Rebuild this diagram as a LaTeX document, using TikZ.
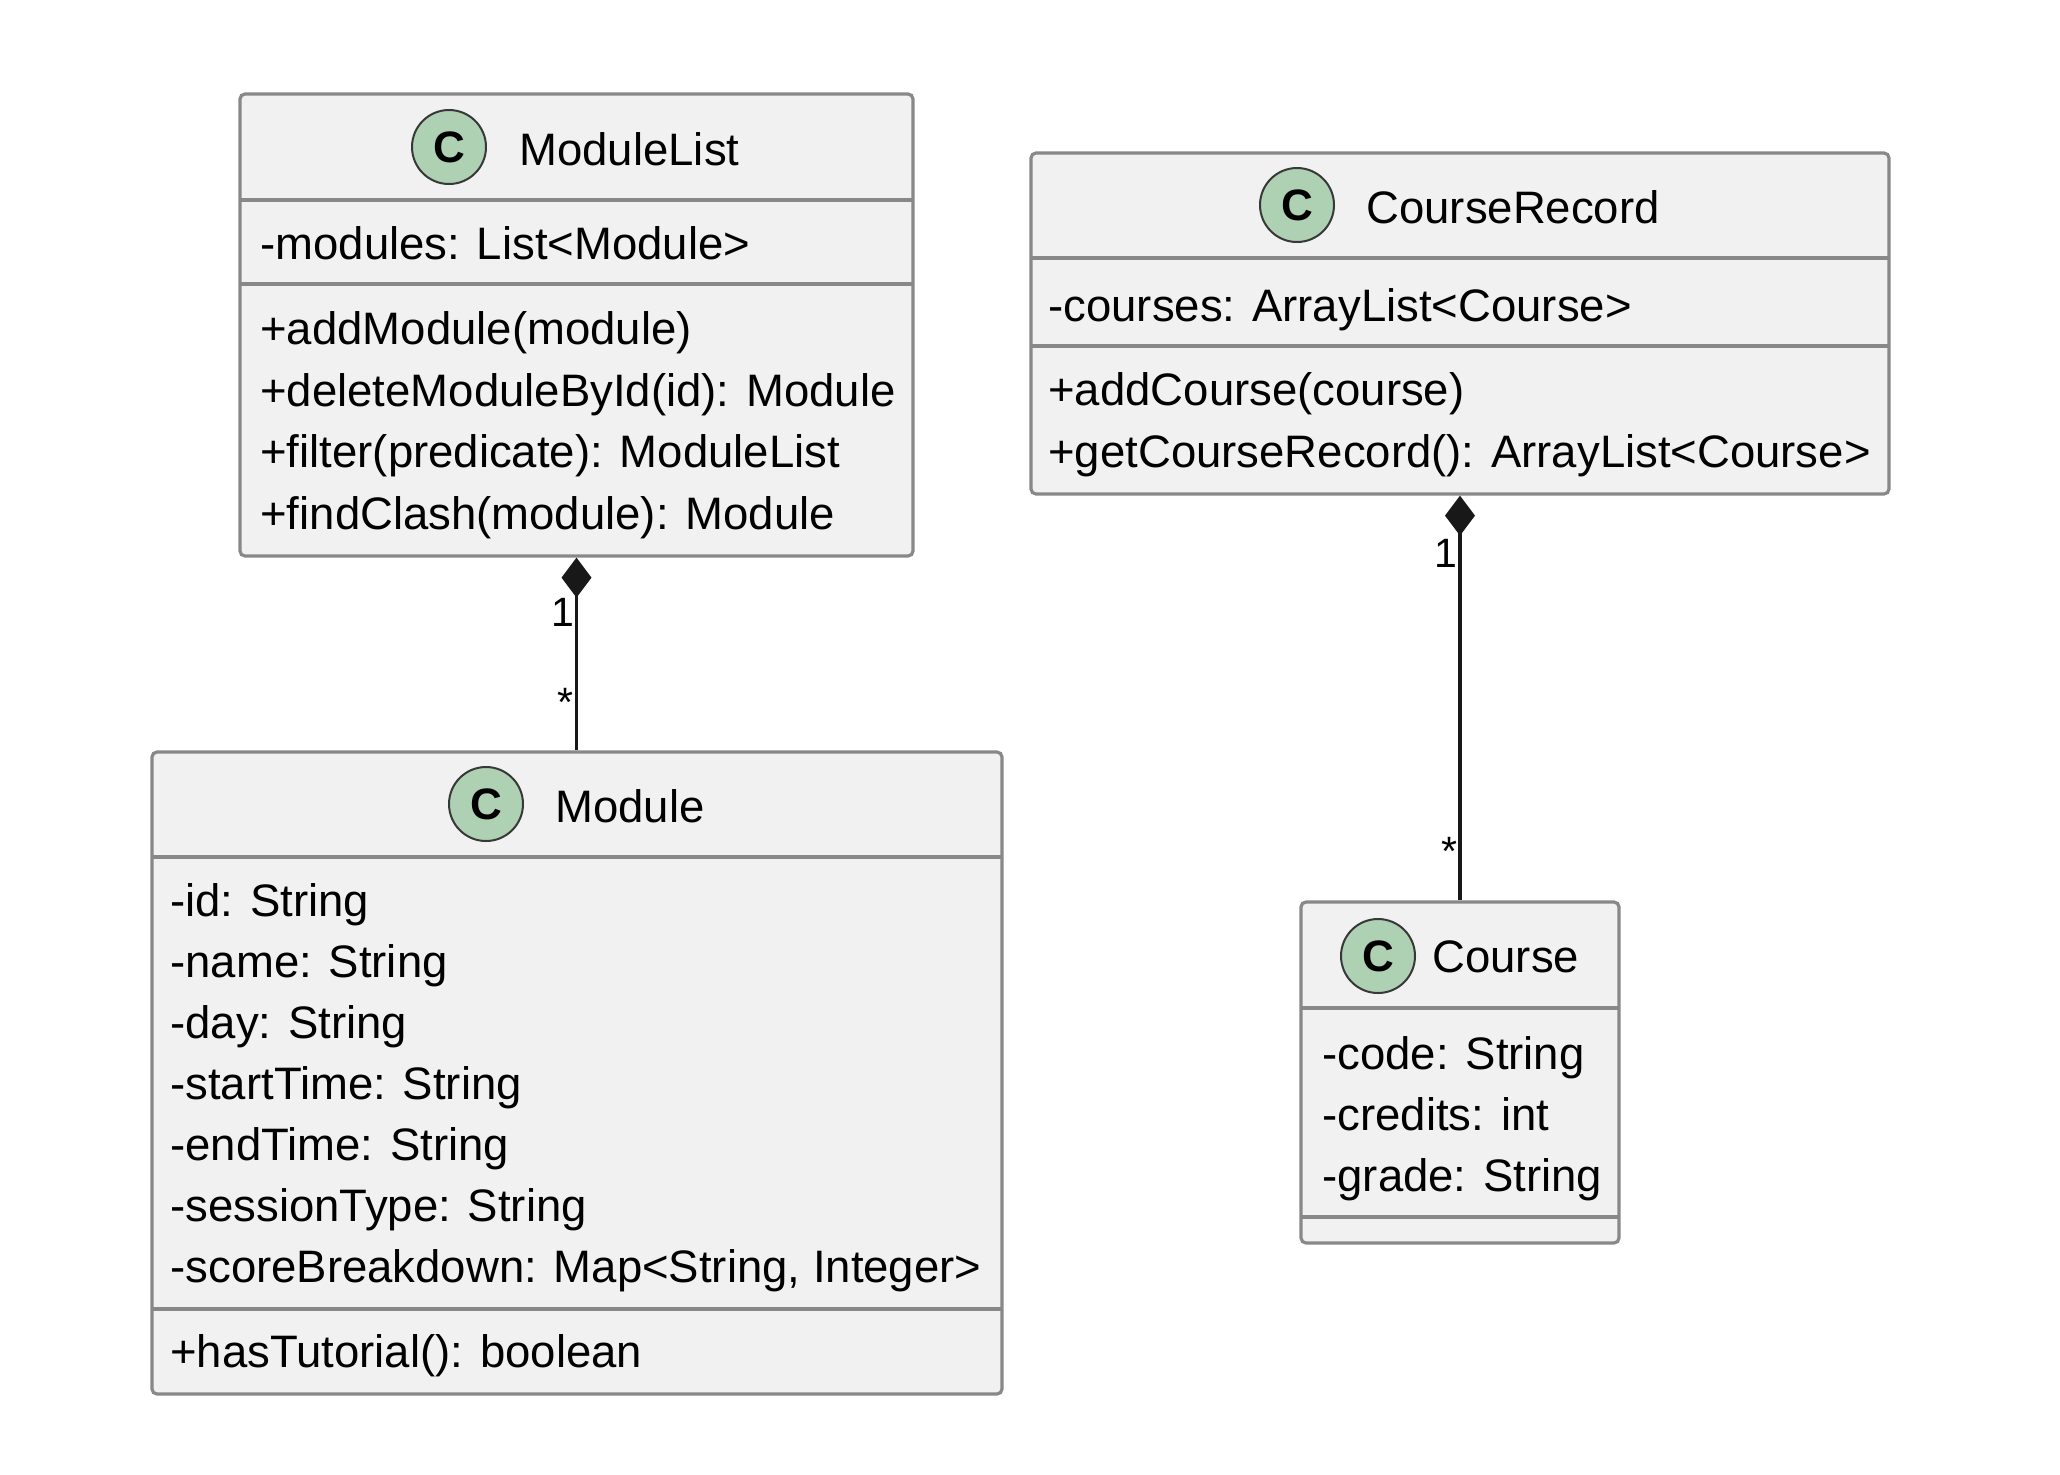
\documentclass[tikz,border=0pt]{standalone}
\usepackage{fontspec}
\setmainfont{Liberation Sans}
\usetikzlibrary{arrows.meta,fit}
\definecolor{boxfill}{HTML}{F1F1F1}
\definecolor{boxline}{HTML}{888888}
\definecolor{spotfill}{HTML}{ADD1B2}
\definecolor{spotline}{HTML}{383838}
\definecolor{linkcol}{HTML}{181818}
\begin{document}
\begin{tikzpicture}[x=0.5pt,y=-0.5pt,
  classbox/.style={draw=boxline, fill=boxfill, line width=1.6pt, rounded corners=2.5pt, inner sep=0pt},
  sepline/.style={draw=boxline, line width=1.6pt},
  spot/.style={circle, draw=spotline, fill=spotfill, line width=1pt, minimum size=37pt, inner sep=0pt, font=\fontsize{22}{22}\selectfont\bfseries},
  classtitle/.style={anchor=base west, inner sep=0pt, font=\fontsize{22.75}{27}\selectfont},
  member/.style={anchor=base west, inner sep=0pt, font=\fontsize{22.75}{27}\selectfont},
  mult/.style={anchor=base, inner sep=0pt, font=\fontsize{20.5}{24}\selectfont},
  comp/.style={draw=linkcol, line width=1.6pt, {Diamond[length=20pt,width=15pt]}-},
]
\fill[white] (0,0) rectangle (2060,1474);
\useasboundingbox (0,0) rectangle (2060,1474);

% ModuleList
\node[classbox, fit={(240,94) (913,556)}] (ml) {};
\draw[sepline] (240,200) -- (913,200);
\draw[sepline] (240,284) -- (913,284);
\node[spot] (mlc) at (449,147) {C};
\node[classtitle] (mlt) at (519,165.5) {ModuleList};
\node[member] (ml1) at (260,259) {-modules: List<Module>};
\node[member] (ml2) at (260,344) {+addModule(module)};
\node[member] (ml3) at (260,406) {+deleteModuleById(id): Module};
\node[member] (ml4) at (260,467) {+filter(predicate): ModuleList};
\node[member] (ml5) at (260,529) {+findClash(module): Module};

% Module
\node[classbox, fit={(152,752) (1002,1394)}] (mod) {};
\draw[sepline] (152,857) -- (1002,857);
\draw[sepline] (152,1309) -- (1002,1309);
\node[spot] (modc) at (486,804) {C};
\node[classtitle] (modt) at (555,822) {Module};
\node[member] (mod1) at (170,916) {-id: String};
\node[member] (mod2) at (170,977) {-name: String};
\node[member] (mod3) at (170,1038) {-day: String};
\node[member] (mod4) at (170,1099) {-startTime: String};
\node[member] (mod5) at (170,1160) {-endTime: String};
\node[member] (mod6) at (170,1221) {-sessionType: String};
\node[member] (mod7) at (170,1282) {-scoreBreakdown: Map<String, Integer>};
\node[member] (mod8) at (170,1367) {+hasTutorial(): boolean};

% CourseRecord
\node[classbox, fit={(1031,153) (1889,494)}] (cr) {};
\draw[sepline] (1031,258) -- (1889,258);
\draw[sepline] (1031,346) -- (1889,346);
\node[spot] (crc) at (1297,205) {C};
\node[classtitle] (crt) at (1366,223) {CourseRecord};
\node[member] (cr1) at (1048,321) {-courses: ArrayList<Course>};
\node[member] (cr2) at (1048,405) {+addCourse(course)};
\node[member] (cr3) at (1048,467) {+getCourseRecord(): ArrayList<Course>};

% Course
\node[classbox, fit={(1301,902) (1619,1243)}] (co) {};
\draw[sepline] (1301,1008) -- (1619,1008);
\draw[sepline] (1301,1217) -- (1619,1217);
\node[spot] (coc) at (1378,956) {C};
\node[classtitle] (cot) at (1432,972) {Course};
\node[member] (co1) at (1322,1069) {-code: String};
\node[member] (co2) at (1322,1130) {-credits: int};
\node[member] (co3) at (1322,1191) {-grade: String};

% connectors
\draw[comp] (ml.south) -- (ml.south |- mod.north);
\draw[comp] (cr.south) -- (cr.south |- co.north);
\node[mult] (m1a) at (563,626) {1};
\node[mult] (m1b) at (565,716) {*};
\node[mult] (m2a) at (1446,567) {1};
\node[mult] (m2b) at (1449,865) {*};
\end{tikzpicture}
\end{document}
